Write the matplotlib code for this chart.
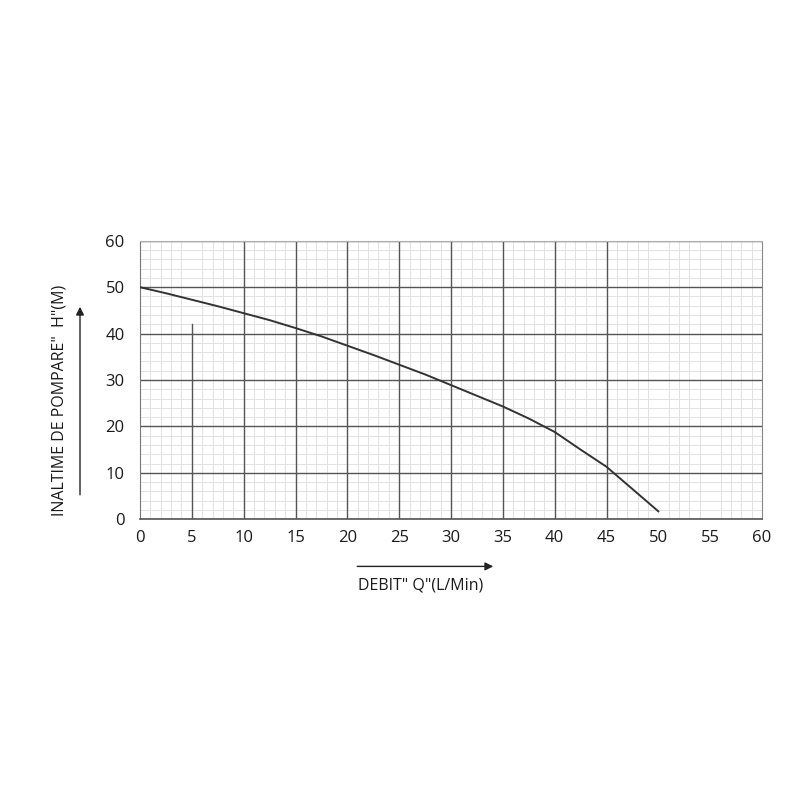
import matplotlib.pyplot as plt
from matplotlib.ticker import MultipleLocator

# curba de pompare
debit = [0, 2.5, 5, 7.5, 10, 12.5, 15, 17.5, 20, 22.5, 25, 27.5, 30,
         32.5, 35, 37.5, 40, 42.5, 45, 47.5, 50]
inaltime = [50, 48.7, 47.3, 45.9, 44.4, 42.9, 41.2, 39.4, 37.4, 35.4, 33.3, 31.2, 28.9,
            26.6, 24.3, 21.7, 18.8, 15.0, 11.3, 6.5, 1.7]

x_ticks = [0, 5, 10, 15, 20, 25, 30, 35, 40, 45, 50, 55, 60]
y_ticks = [0, 10, 20, 30, 40, 50, 60]
x_major_lines = [10, 15, 20, 25, 30, 35, 40, 45]

plt.rcParams['font.family'] = ['Open Sans', 'DejaVu Sans']

fig = plt.figure(figsize=(8, 8), dpi=100)
ax = fig.add_axes([0.175, 0.351, 0.7775, 0.348])

ax.set_xlim(0, 60)
ax.set_ylim(0, 60)

ax.xaxis.set_minor_locator(MultipleLocator(1))
ax.yaxis.set_minor_locator(MultipleLocator(2))
ax.set_xticks(x_ticks)
ax.set_yticks(y_ticks)

ax.grid(which='minor', color='#e2e2e2', linewidth=0.7, linestyle='-')
ax.grid(which='major', axis='y', color='#555555', linewidth=1.0)
ax.grid(which='major', axis='x', visible=False)
for xv in x_major_lines:
    ax.axvline(xv, color='#555555', linewidth=1.0, zorder=1)
# linia de la x=5 e taiata in original
ax.axvline(5, ymin=0, ymax=42 / 60, color='#555555', linewidth=1.0, zorder=1)
ax.set_axisbelow(True)

ax.spines['top'].set_color('#b0b0b0')
ax.spines['right'].set_color('#888888')
ax.spines['left'].set_color('#777777')
ax.spines['bottom'].set_color('#555555')
ax.spines['bottom'].set_linewidth(1.2)

ax.tick_params(which='both', length=0, labelsize=12, colors='#1a1a1a', pad=8)
ax.tick_params(axis='y', pad=11)

ax.plot(debit, inaltime, color='#333333', linewidth=1.4, zorder=3)

# etichete axe cu sageti
fig.text(0.526, 0.268, 'DEBIT" Q"(L/Min)', ha='center', va='center', fontsize=11.5, color='#1a1a1a')
ax.annotate('', xy=(0.62, 0.292), xytext=(0.443, 0.292), xycoords='figure fraction',
            arrowprops=dict(arrowstyle='-|>', color='#222222', lw=1.0, mutation_scale=12))

fig.text(0.075, 0.5, 'INALTIME DE POMPARE"  H"(M)', ha='center', va='center', rotation=90,
         fontsize=11.5, color='#1a1a1a')
ax.annotate('', xy=(0.1, 0.62), xytext=(0.1, 0.378), xycoords='figure fraction',
            arrowprops=dict(arrowstyle='-|>', color='#222222', lw=1.0, mutation_scale=12))

fig.savefig('out.png', dpi=100, facecolor='white')
